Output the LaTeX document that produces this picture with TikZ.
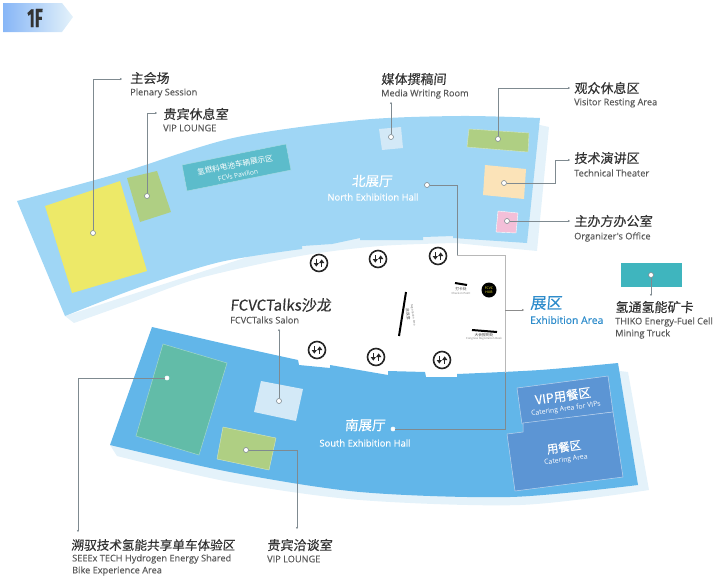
\documentclass[tikz,border=0pt]{standalone}
\usepackage{fontspec}
\setmainfont{Open Sans}
\newfontfamily\enf[FakeBold=0.2]{Open Sans}
\newfontfamily\cjk[FakeBold=0.15]{Noto Sans CJK SC}
\newfontfamily\cjkt{Noto Sans CJK SC}
\newfontfamily\cjks[FakeSlant=0.08,FakeBold=0.3]{Noto Sans CJK SC}
\newfontfamily\tagfont[FakeStretch=0.62,FakeBold=0.5]{Fira Sans}
\usetikzlibrary{arrows.meta,calc}
\definecolor{northc}{HTML}{9FD6F5}
\definecolor{southc}{HTML}{62B6E9}
\definecolor{shadowc}{HTML}{E4F2FA}
\definecolor{linec}{HTML}{7F8A90}
\definecolor{cateringc}{HTML}{5C95D4}
\definecolor{tealc}{HTML}{3FB5BE}
\definecolor{bluetxt}{HTML}{2E8CCB}
\definecolor{yellowc}{HTML}{EDE968}
\definecolor{greenc}{HTML}{AFCF83}
\definecolor{seeexc}{HTML}{62BCA8}
\definecolor{orangec}{HTML}{FBE3B8}
\definecolor{pinkc}{HTML}{F3BFD8}
\definecolor{paleblue}{HTML}{D3E9F7}
\definecolor{pavc}{HTML}{5CBCCB}
\tikzset{
  cn/.style={anchor=west,inner sep=0pt,font=\cjks\fontsize{13}{13}\selectfont,text=black!80},
  en/.style={anchor=west,inner sep=0pt,font=\enf\fontsize{9.2}{10}\selectfont,text=black!65},
  wcn/.style={inner sep=0pt,text=white,font=\cjks\fontsize{13.5}{14}\selectfont},
  wen/.style={inner sep=0pt,text=white,font=\enf\fontsize{9.4}{10}\selectfont},
  dotn/.style={circle,draw=linec,fill=white,line width=.6pt,minimum size=5pt,inner sep=0pt},
  lead/.style={draw=linec,line width=.6pt},
  leadarrow/.style={lead,-{Stealth[length=2.2pt,width=2.4pt]}},
  lift/.style={circle,draw=black!85,fill=white,line width=1.6pt,minimum size=17pt,inner sep=0pt},
  bar/.style={draw=black,line width=2pt},
  tiny/.style={inner sep=0pt,font=\cjkt\fontsize{3.8}{4}\selectfont,text=black!75},
  tinyen/.style={inner sep=0pt,font=\fontsize{2.8}{3}\selectfont,text=black!55}
}
\newcommand{\liftmark}{\tikz[baseline=-2.5pt,x=1pt,y=1pt]{\draw[black!85,line width=1.4pt,-{Stealth[length=3.6pt,width=5pt,inset=0pt]}](-2.7,3.6)--(-2.7,-3.6);\draw[black!85,line width=1.4pt,-{Stealth[length=3.6pt,width=5pt,inset=0pt]}](2.7,-3.6)--(2.7,3.6);}}
\begin{document}
\begin{tikzpicture}[x=1pt,y=-1pt]
\useasboundingbox (0,0) rectangle (720,582);
% floor tag
\path[left color=northc!85!blue,right color=shadowc] (3,3)--(62,3)--(73,17)--(62,32)--(3,32)--cycle;
\node[inner sep=0pt,text=black!80] (tag) at (35,18) {\tagfont\bfseries\fontsize{26}{26}\selectfont 1F};
% north hall shadow
\fill[shadowc] (300,240) -- (540,125) -- (549,127) -- (537,251) -- (455,243)
  -- plot[smooth,tension=.5] coordinates {(455,243) (380,246) (300,256) (200,278) (130,303) (74,323)} -- (65,316) -- cycle;
% north hall
\fill[northc] plot[smooth,tension=.5] coordinates {(17,201) (120,173) (233,138) (360,120) (460,116) (540,118)}
  -- (527,243) -- (453,238) -- (453,236) -- (423,237) -- (423,240) -- (360,240) -- (360,238) -- (332,244) -- (302,246) -- (302,249)
  -- plot[smooth,tension=.5] coordinates {(302,249) (220,262) (140,287) (65,316)} -- cycle;
% south hall shadow
\fill[shadowc] (110,445) -- (400,400) -- (620,371) -- (628,372) -- (649,490)
  -- plot[smooth,tension=.5] coordinates {(649,490) (520,505) (360,500) (230,482) (117,456)} -- cycle;
% south hall
\fill[southc] (110,445) -- (152,327) -- plot[smooth,tension=.5] coordinates {(152,327) (230,345) (298,360)}
  -- (299,365) -- (330,368) -- (330,365) -- (388,375) -- (388,371) -- (425,372) -- (426,377) -- (457,377) -- (457,374)
  -- plot[smooth,tension=.5] coordinates {(457,374) (540,370) (618,363)}
  -- (638,485) -- plot[smooth,tension=.5] coordinates {(638,485) (510,497) (360,492) (230,472) (110,445)} -- cycle;
% rooms north
\fill[yellowc] (45,206)--(120,181)--(147,271)--(72,293)--cycle;
\fill[greenc] (127,178)--(157,171)--(171,212)--(140,222)--cycle;
\filldraw[draw=white!50!pavc,fill=pavc,line width=.4pt] (182,165)--(286,144)--(291,170)--(187,191)--cycle;
\fill[paleblue] (379,129)--(401,127)--(403,148)--(382,150)--cycle;
\filldraw[draw=white!50!greenc,fill=greenc,line width=.4pt] (469,129)--(529,133)--(528,152)--(467,147)--cycle;
\fill[orangec] (485,165)--(526,169)--(524,199)--(483,195)--cycle;
\filldraw[draw=white,fill=pinkc,line width=.4pt] (498,211)--(518,213)--(516,233)--(496,232)--cycle;
\fill[tealc] (621,263) rectangle (682,287);
% rooms south
\filldraw[draw=white!40!seeexc,fill=seeexc,line width=.5pt] (163,344)--(227,363)--(199,455)--(136,436)--cycle;
\fill[paleblue] (261,381)--(303,389)--(296,421)--(254,412)--cycle;
\filldraw[draw=white!50!greenc,fill=greenc,line width=.4pt] (223,427)--(276,438)--(269,470)--(217,459)--cycle;
\filldraw[draw=white!60!cateringc,fill=cateringc,line width=.5pt] (517,388)--(608,376)--(613,412)--(522,424)--cycle;
\filldraw[draw=white!60!cateringc,fill=cateringc,line width=.5pt] (523,423)--(613,412)--(623,477)--(515,491)--(507,434)--(523,432)--cycle;
% centre furniture
\node[lift] (s1) at (319,263) {\liftmark};
\node[lift] (s2) at (378,259) {\liftmark};
\node[lift] (s3) at (438,256) {\liftmark};
\node[lift] (s4) at (317,350) {\liftmark};
\node[lift] (s5) at (376,357) {\liftmark};
\node[lift] (s6) at (442,360) {\liftmark};
\coordinate (b1a) at (406,292); \coordinate (b1b) at (399,336);
\draw[bar] (b1a)--(b1b);
\coordinate (b2a) at (455,283); \coordinate (b2b) at (467,285);
\draw[bar] (b2a)--(b2b);
\coordinate (b3a) at (472,330); \coordinate (b3b) at (497,332);
\draw[bar] (b3a)--(b3b);
\node[circle,fill=black,minimum size=15pt,inner sep=0pt,text=yellow!80!white,font=\fontsize{3.4}{3.6}\selectfont,align=center] (hub) at (489,290) {FCVC\\HUB};
\node[tiny,rotate=-82] (t1) at (408,314) {洽谈室};
\node[tinyen,rotate=-82] (t1e) at (413,315) {Negotiation Area};
\node[tiny] (t2) at (461,289) {打卡处};
\node[tinyen] (t2e) at (461,293) {Check-in Point};
\node[tiny] (t3) at (484,335) {大会报到处};
\node[tinyen] (t3e) at (484,339) {Congress Registration Desk};
% hall labels
\node[wcn] (north) at (372,181) {北展厅};
\node[wen] (northen) at (373,197) {North Exhibition Hall};
\node[wcn] (south) at (365,425) {南展厅};
\node[wen] (southen) at (365,443) {South Exhibition Hall};
\node[inner sep=0pt,text=white,rotate=11,font=\cjkt\fontsize{7.7}{8}\selectfont] (fcvcn) at (235,165) {氢燃料电池车辆展示区};
\node[inner sep=0pt,text=white,rotate=11,font=\fontsize{6.6}{7}\selectfont] (fcven) at (238,175) {FCVs Pavilion};
\node[inner sep=0pt,text=white,rotate=8,font=\cjk\fontsize{12.5}{13}\selectfont] (cat1) at (563,396) {VIP用餐区};
\node[inner sep=0pt,text=white,rotate=8,font=\fontsize{6.9}{7}\selectfont] (cat2) at (566,409) {Catering Area for VIPs};
\node[inner sep=0pt,text=white,rotate=8,font=\cjk\fontsize{11.5}{12}\selectfont] (cat3) at (564,447) {用餐区};
\node[inner sep=0pt,text=white,rotate=8,font=\fontsize{6.9}{7}\selectfont] (cat4) at (566,460) {Catering Area};
% labels
\node[cn] (l1) at (130,78) {主会场};
\node[en] (l1e) at (130,93) {Plenary Session};
\node[cn] (l2) at (163,114) {贵宾休息室};
\node[en] (l2e) at (163,128) {VIP LOUNGE};
\node[cn] (l3) at (381,79) {媒体撰稿间};
\node[en] (l3e) at (381,94) {Media Writing Room};
\node[cn] (l4) at (574,88) {观众休息区};
\node[en] (l4e) at (574,103) {Visitor Resting Area};
\node[cn] (l5) at (574,158) {技术演讲区};
\node[en] (l5e) at (574,173) {Technical Theater};
\node[cn] (l6) at (574,221) {主办方办公室};
\node[en] (l6e) at (574,237) {Organizer's Office};
\node[cn] (l7) at (615,307) {氢通氢能矿卡};
\node[en] (l7e) at (615,322) {THIKO Energy-Fuel Cell};
\node[en] (l7f) at (615,334) {Mining Truck};
\node[cn,text=bluetxt,font=\cjks\fontsize{16}{16}\selectfont] (l8) at (530,303) {展区};
\node[en,text=bluetxt,font=\enf\fontsize{10.4}{11}\selectfont] (l8e) at (530,320) {Exhibition Area};
\node[cn,font=\cjks\fontsize{15}{15}\selectfont] (l9) at (230,305) {FCVCTalks沙龙};
\node[en] (l9e) at (230,320) {FCVCTalks Salon};
\node[cn,font=\cjks\fontsize{12.6}{13}\selectfont] (l10) at (71,545) {溯驭技术氢能共享单车体验区};
\node[en] (l10e) at (72,559) {SEEEx TECH Hydrogen Energy Shared};
\node[en] (l10f) at (72,571) {Bike Experience Area};
\node[cn] (l11) at (267,545) {贵宾洽谈室};
\node[en] (l11e) at (267,559) {VIP LOUNGE};
% leader ends
\coordinate (e1) at (122,79); \coordinate (e2) at (157,113); \coordinate (e3) at (391,102);
\coordinate (e4) at (570,88); \coordinate (e5) at (570,160); \coordinate (e6) at (570,221);
\coordinate (e7) at (651,296); \coordinate (e9) at (279,329); \coordinate (e10) at (78,532);
\coordinate (e11) at (297,529); \coordinate (e8) at (524,310);
\coordinate (k1) at (457,255); \coordinate (k2) at (505,255); \coordinate (k3) at (505,310); \coordinate (k4) at (505,373); \coordinate (k5) at (505,429);
\coordinate (k0) at (457,185); \coordinate (k6) at (555,183);
% dots
\node[dotn] (d1) at (93,233) {};
\node[dotn] (d2) at (147,196) {};
\node[dotn] (d3) at (391,137) {};
\node[dotn] (d4) at (498,139) {};
\node[dotn] (d5) at (504,183) {};
\node[dotn] (d6) at (507,221) {};
\node[dotn] (d7) at (651,275) {};
\node[dotn] (d9) at (279,401) {};
\node[dotn,draw=white,minimum size=4pt] (d10) at (167,378) {};
\node[dotn] (d11) at (246,450) {};
\node[dotn] (dn) at (427,185) {};
\node[dotn,draw=white,minimum size=4pt] (ds) at (393,429) {};
% leaders
\draw[leadarrow] (d1) |- (e1);
\draw[leadarrow] (d2) |- (e2);
\draw[leadarrow] (d3) -- (e3);
\draw[leadarrow] (d4) |- (e4);
\draw[leadarrow] (d5) -- (k6) |- (e5);
\draw[leadarrow] (d6) -- (e6);
\draw[leadarrow] (d7) -- (e7);
\draw[leadarrow] (d9) -- (e9);
\draw[leadarrow] (d10) -| (e10);
\draw[leadarrow] (d11) -| (e11);
\draw[lead] (dn) -- (k0) -- (k1);
\draw[lead,draw=black!28] (k1) -- (k2) -- (k4);
\draw[lead] (k4) -- (k5) -- (ds);
\draw[leadarrow,draw=black!45] (k3) -- (e8);
\end{tikzpicture}
\end{document}
